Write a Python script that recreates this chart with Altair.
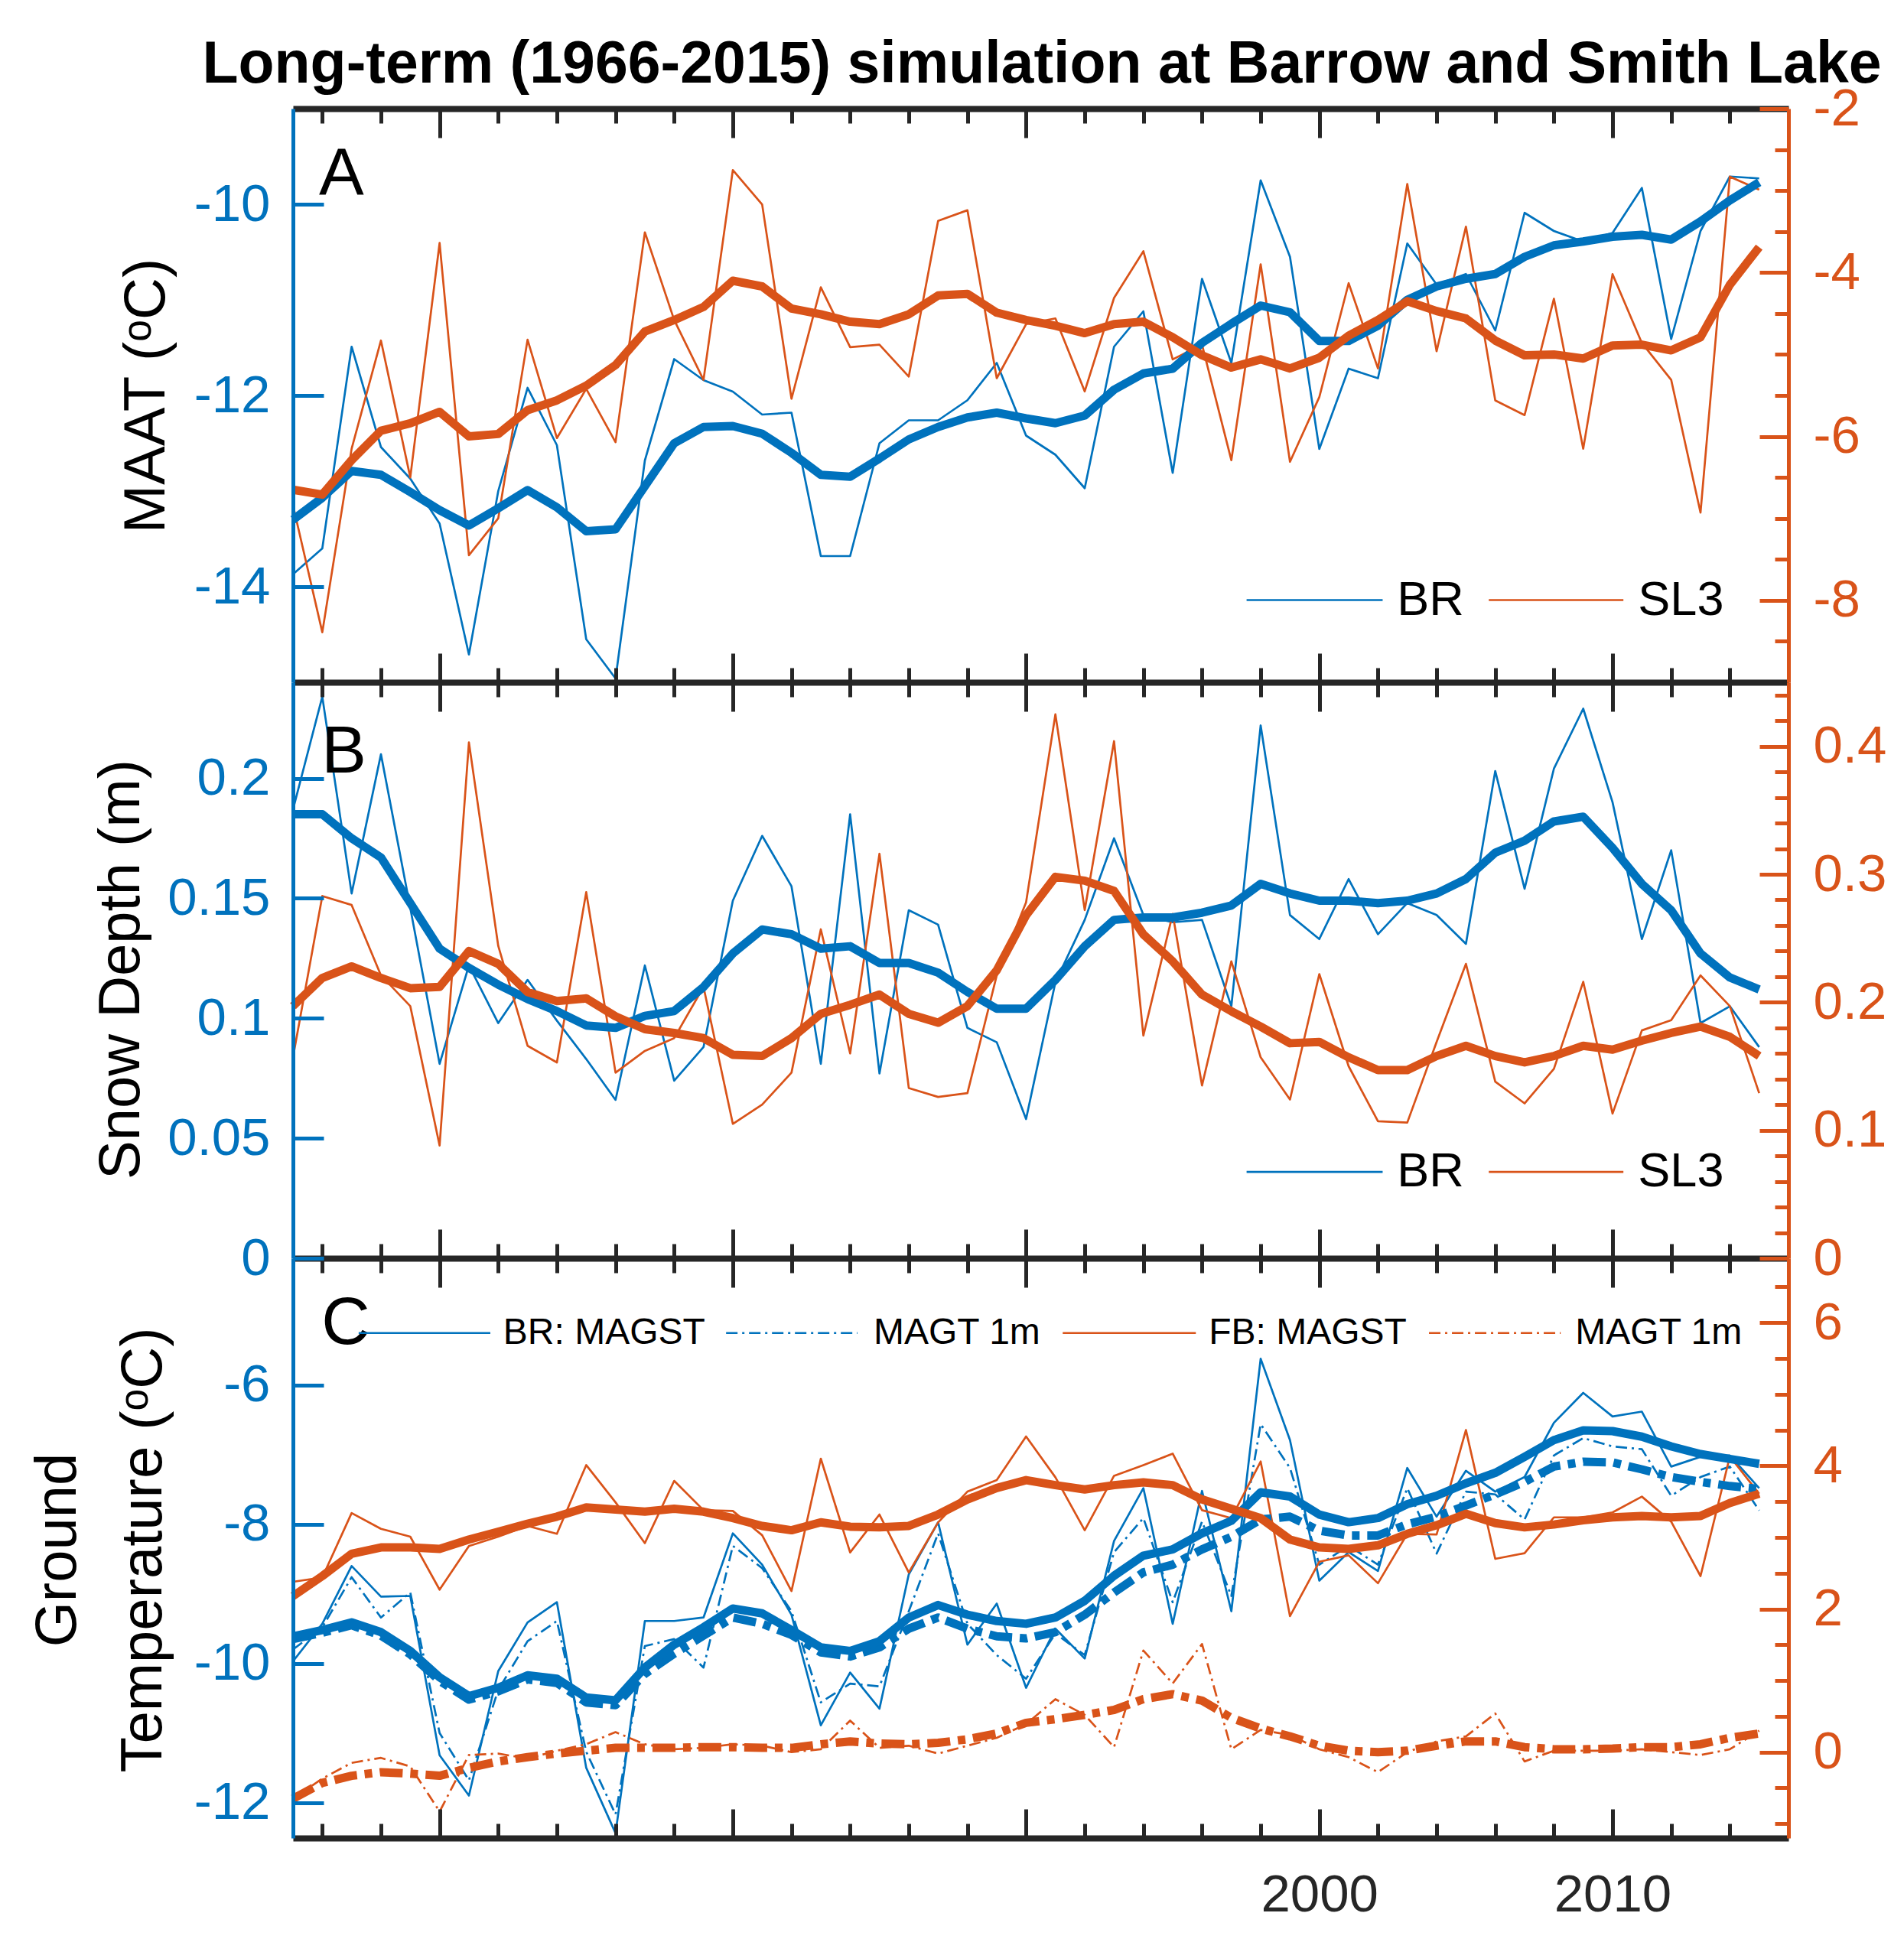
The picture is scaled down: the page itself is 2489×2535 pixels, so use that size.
import altair as alt
import pandas as pd

YEARS = list(range(1965, 2016))
TITLE = "Long-term (1966-2015) simulation at Barrow and Smith Lake"

# ---------------- Panel A: MAAT (left: BR, right: SL3) ----------------
br_maat = [-13.87, -13.6, -11.49, -12.54, -12.87, -13.34, -14.71, -13.0, -11.92, -12.52,
           -14.55, -14.96, -12.68, -11.62, -11.84, -11.96, -12.2, -12.18, -13.68, -13.68,
           -12.5, -12.26, -12.26, -12.05, -11.66, -12.42, -12.62, -12.97, -11.49, -11.12,
           -12.81, -10.78, -11.66, -9.75, -10.55, -12.56, -11.72, -11.82, -10.41, -10.84,
           -10.73, -11.32, -10.09, -10.28, -10.39, -10.3, -9.83, -11.41, -10.28, -9.71,
           -9.73]
br_maat_smooth = [-13.3, -13.07, -12.79, -12.83, -13.01, -13.2, -13.36, -13.18, -12.99, -13.17,
                  -13.42, -13.4, -12.95, -12.5, -12.33, -12.32, -12.4, -12.6, -12.83, -12.85,
                  -12.66, -12.46, -12.33, -12.23, -12.18, -12.24, -12.29, -12.21, -11.94, -11.77,
                  -11.72, -11.45, -11.25, -11.06, -11.13, -11.43, -11.43, -11.27, -11.0, -10.86,
                  -10.78, -10.73, -10.55, -10.43, -10.39, -10.34, -10.32, -10.37, -10.18, -9.96,
                  -9.77]
sl3_maat = [-6.84, -8.39, -6.15, -4.83, -6.5, -3.64, -7.45, -7.0, -4.82, -6.02,
            -5.42, -6.07, -3.51, -4.58, -5.31, -2.75, -3.17, -5.54, -4.18, -4.91,
            -4.88, -5.27, -3.37, -3.24, -5.29, -4.63, -4.56, -5.45, -4.31, -3.74,
            -5.06, -4.88, -6.29, -3.9, -6.31, -5.52, -4.13, -5.17, -2.92, -4.96,
            -3.44, -5.56, -5.74, -4.32, -6.15, -4.02, -4.86, -5.31, -6.93, -2.83,
            -2.99]
sl3_maat_smooth = [-6.65, -6.71, -6.29, -5.93, -5.84, -5.7, -6.0, -5.97, -5.68, -5.56,
                   -5.38, -5.13, -4.72, -4.58, -4.42, -4.1, -4.17, -4.44, -4.51, -4.6,
                   -4.63, -4.51, -4.28, -4.26, -4.49, -4.58, -4.65, -4.74, -4.63, -4.6,
                   -4.79, -5.01, -5.16, -5.06, -5.17, -5.04, -4.77, -4.58, -4.35, -4.47,
                   -4.56, -4.83, -5.01, -5.0, -5.05, -4.89, -4.88, -4.95, -4.79, -4.15,
                   -3.69]

# ---------------- Panel B: Snow depth ----------------
br_snow = [0.187, 0.234, 0.152, 0.21, 0.146, 0.081, 0.122, 0.098, 0.116, 0.099,
           0.083, 0.066, 0.122, 0.074, 0.088, 0.149, 0.176, 0.155, 0.081, 0.185,
           0.077, 0.145, 0.139, 0.096, 0.09, 0.058, 0.115, 0.141, 0.175, 0.143,
           0.14, 0.141, 0.105, 0.222, 0.143, 0.133, 0.158, 0.135, 0.148, 0.143,
           0.131, 0.203, 0.154, 0.204, 0.229, 0.19, 0.133, 0.17, 0.098, 0.105,
           0.088]
br_snow_smooth = [0.185, 0.185, 0.175, 0.167, 0.148, 0.129, 0.121, 0.114, 0.108, 0.103,
                  0.097, 0.096, 0.101, 0.103, 0.113, 0.127, 0.137, 0.135, 0.129, 0.13,
                  0.123, 0.123, 0.119, 0.111, 0.104, 0.104, 0.116, 0.13, 0.141, 0.142,
                  0.142, 0.144, 0.147, 0.156, 0.152, 0.149, 0.149, 0.148, 0.149, 0.152,
                  0.158, 0.169, 0.174, 0.182, 0.184, 0.171, 0.156, 0.145, 0.127, 0.117,
                  0.112]
sl3_snow = [0.157, 0.283, 0.276, 0.221, 0.197, 0.088, 0.403, 0.244, 0.166, 0.153,
            0.286, 0.145, 0.162, 0.172, 0.212, 0.105, 0.12, 0.145, 0.257, 0.16,
            0.316, 0.133, 0.126, 0.129, 0.221, 0.278, 0.425, 0.272, 0.404, 0.174,
            0.269, 0.135, 0.232, 0.157, 0.124, 0.222, 0.15, 0.107, 0.106, 0.169,
            0.23, 0.138, 0.121, 0.148, 0.216, 0.113, 0.178, 0.186, 0.221, 0.197,
            0.129]
sl3_snow_smooth = [0.197, 0.219, 0.228, 0.219, 0.211, 0.212, 0.24, 0.23, 0.208, 0.201,
                   0.203, 0.189, 0.179, 0.176, 0.172, 0.159, 0.158, 0.172, 0.191, 0.198,
                   0.206, 0.191, 0.184, 0.197, 0.225, 0.268, 0.298, 0.295, 0.287, 0.253,
                   0.232, 0.206, 0.193, 0.181, 0.168, 0.169, 0.157, 0.147, 0.147, 0.158,
                   0.166, 0.158, 0.153, 0.158, 0.166, 0.163, 0.17, 0.176, 0.181, 0.173,
                   0.158]

# ---------------- Panel C: Ground temperature ----------------
br_magst = [-9.97, -9.43, -8.6, -9.04, -9.03, -11.32, -11.9, -10.11, -9.41, -9.12,
            -11.5, -12.44, -9.39, -9.39, -9.34, -8.13, -8.58, -9.3, -10.89, -10.13,
            -10.65, -8.72, -7.97, -9.73, -9.14, -10.35, -9.5, -9.93, -8.24, -7.48,
            -9.43, -7.52, -9.25, -5.62, -6.79, -8.81, -8.4, -8.67, -7.19, -7.89,
            -7.23, -7.53, -7.32, -6.54, -6.11, -6.45, -6.38, -7.17, -7.03, -7.01,
            -7.48]
br_magt1m = [-9.8, -9.48, -8.76, -9.34, -8.98, -11.0, -11.68, -10.38, -9.68, -9.39,
             -11.27, -12.17, -9.75, -9.65, -10.06, -8.31, -8.63, -9.25, -10.56, -10.29,
             -10.33, -9.25, -8.13, -9.43, -9.88, -10.22, -9.57, -9.88, -8.4, -7.91,
             -9.12, -7.96, -9.03, -6.56, -7.19, -8.58, -8.31, -8.58, -7.48, -8.42,
             -7.53, -7.57, -7.93, -7.01, -6.76, -6.88, -6.92, -7.59, -7.32, -7.17,
             -7.8]
br_magst_smooth = [-9.61, -9.52, -9.41, -9.55, -9.82, -10.2, -10.47, -10.35, -10.17, -10.22,
                   -10.49, -10.53, -10.06, -9.73, -9.48, -9.21, -9.28, -9.52, -9.77, -9.82,
                   -9.68, -9.34, -9.16, -9.3, -9.39, -9.43, -9.34, -9.1, -8.74, -8.45,
                   -8.36, -8.13, -7.95, -7.54, -7.6, -7.86, -7.97, -7.91, -7.71, -7.59,
                   -7.41, -7.26, -7.03, -6.79, -6.65, -6.66, -6.74, -6.88, -6.99, -7.06,
                   -7.13]
br_magt1m_smooth = [-9.65, -9.56, -9.45, -9.6, -9.87, -10.25, -10.52, -10.4, -10.23, -10.28,
                    -10.56, -10.6, -10.15, -9.86, -9.6, -9.34, -9.43, -9.59, -9.84, -9.9,
                    -9.77, -9.5, -9.34, -9.5, -9.61, -9.64, -9.55, -9.3, -8.98, -8.69,
                    -8.58, -8.36, -8.18, -7.93, -7.89, -8.09, -8.16, -8.16, -8.0, -7.89,
                    -7.73, -7.57, -7.39, -7.17, -7.1, -7.11, -7.21, -7.32, -7.39, -7.45,
                    -7.49]
fb_magst = [2.38, 2.44, 3.34, 3.12, 3.01, 2.27, 2.88, 3.01, 3.16, 3.05,
            4.01, 3.49, 2.92, 3.79, 3.38, 3.37, 3.03, 2.25, 4.1, 2.79,
            3.32, 2.51, 3.21, 3.64, 3.8, 4.41, 3.84, 3.1, 3.86, 4.01,
            4.17, 3.38, 3.27, 4.06, 1.9, 2.66, 2.75, 2.36, 3.05, 3.04,
            4.5, 2.7, 2.78, 3.28, 3.28, 3.35, 3.57, 3.22, 2.46, 4.13,
            3.61]
fb_magst_smooth = [2.18, 2.46, 2.77, 2.86, 2.86, 2.84, 2.97, 3.08, 3.19, 3.29,
                   3.42, 3.39, 3.36, 3.4, 3.36, 3.27, 3.16, 3.1, 3.21, 3.15,
                   3.14, 3.16, 3.32, 3.53, 3.69, 3.8, 3.73, 3.67, 3.73, 3.77,
                   3.73, 3.53, 3.4, 3.27, 2.97, 2.86, 2.84, 2.89, 3.05, 3.17,
                   3.33, 3.2, 3.14, 3.18, 3.24, 3.28, 3.3, 3.28, 3.3, 3.48,
                   3.61]
fb_magt1m = [-0.65, -0.37, -0.15, -0.08, -0.2, -0.83, -0.04, -0.02, -0.09, 0.02,
             0.11, 0.28, 0.11, 0.04, 0.06, 0.11, 0.09, 0.0, 0.04, 0.44,
             0.06, 0.09, -0.02, 0.09, 0.2, 0.39, 0.74, 0.52, 0.07, 1.42,
             0.96, 1.51, 0.04, 0.31, 0.24, 0.04, -0.07, -0.28, 0.0, 0.15,
             0.22, 0.54, -0.13, 0.02, 0.02, 0.02, 0.04, 0.0, -0.04, 0.04,
             0.3]
fb_magt1m_smooth = [-0.65, -0.43, -0.33, -0.28, -0.3, -0.33, -0.22, -0.13, -0.07, -0.02,
                    0.02, 0.06, 0.06, 0.06, 0.07, 0.07, 0.06, 0.06, 0.11, 0.15,
                    0.12, 0.11, 0.13, 0.18, 0.26, 0.41, 0.46, 0.52, 0.59, 0.74,
                    0.81, 0.72, 0.48, 0.33, 0.22, 0.09, 0.02, 0.0, 0.02, 0.09,
                    0.15, 0.15, 0.07, 0.04, 0.04, 0.05, 0.07, 0.07, 0.11, 0.2,
                    0.26]

# ---------------- tick values ----------------
X_MAJOR = [1970, 1980, 1990, 2000, 2010]
X_MINOR = [1966, 1968, 1972, 1974, 1976, 1978, 1982, 1984, 1986, 1988, 1992, 1994,
           1996, 1998, 2002, 2004, 2006, 2008, 2012, 2014]
X_LABELS = [2000, 2010]
A_LEFT_TICKS = [-14, -12, -10]
A_RIGHT_TICKS = [-8, -6, -4, -2]
A_RIGHT_MINOR = [-8.5, -7.5, -7, -6.5, -5.5, -5, -4.5, -3.5, -3, -2.5]
B_LEFT_TICKS = [0, 0.05, 0.1, 0.15, 0.2]
B_RIGHT_TICKS = [0, 0.1, 0.2, 0.3, 0.4]
B_RIGHT_MINOR = [0.02, 0.04, 0.06, 0.08, 0.12, 0.14, 0.16, 0.18, 0.22, 0.24, 0.26, 0.28,
                 0.32, 0.34, 0.36, 0.38, 0.42, 0.44]
C_LEFT_TICKS = [-12, -10, -8, -6]
C_RIGHT_TICKS = [0, 2, 4, 6]
C_RIGHT_MINOR = [-1, -0.5, 0.5, 1, 1.5, 2.5, 3, 3.5, 4.5, 5, 5.5, 6.5]

# ---------------- styling / layout ----------------
BLUE = "#0072BD"
ORANGE = "#D95319"
DARK = "#262626"
FONT = "Liberation Sans"
THIN = 2.7
THICK = 11
DASHDOT_THIN = [15, 6, 3, 6]
DASH_THICK = [30, 10, 10, 10]

W, H = 1955, 2261
BAND = {"A": [750, 0], "B": [1503, 750], "C": [2261, 1503]}
DOMAINS = {"A_L": [-15, -9], "A_R": [-9, -2],
           "B_L": [0, 0.24], "B_R": [0, 0.45],
           "C_L": [-12.51, -4.175], "C_R": [-1.2, 6.9]}

df = pd.DataFrame({
    "year": YEARS,
    "br_maat": br_maat, "br_maat_smooth": br_maat_smooth,
    "sl3_maat": sl3_maat, "sl3_maat_smooth": sl3_maat_smooth,
    "br_snow": br_snow, "br_snow_smooth": br_snow_smooth,
    "sl3_snow": sl3_snow, "sl3_snow_smooth": sl3_snow_smooth,
    "br_magst": br_magst, "br_magt1m": br_magt1m,
    "br_magst_smooth": br_magst_smooth, "br_magt1m_smooth": br_magt1m_smooth,
    "fb_magst": fb_magst, "fb_magst_smooth": fb_magst_smooth,
    "fb_magt1m": fb_magt1m, "fb_magt1m_smooth": fb_magt1m_smooth,
})

XSC = alt.Scale(domain=[1965, 2016], nice=False, zero=False)


def ysc(key):
    return alt.Scale(domain=DOMAINS[key], range=BAND[key[0]], nice=False, zero=False)


def xax(edge, direction, major, domain=False):
    if direction == "down":
        orient, off = "bottom", edge - H
    else:
        orient, off = "top", -edge
    return alt.Axis(orient=orient, offset=off, values=X_MAJOR if major else X_MINOR,
                    ticks=True, tickSize=38 if major else 19, tickWidth=5, tickColor=DARK,
                    labels=False, domain=domain, domainColor=DARK, domainWidth=8,
                    grid=False, title=None, zindex=1)


XLAB = alt.Axis(orient="bottom", offset=0, values=X_LABELS, ticks=False, domain=False,
                labels=True, labelFont=FONT, labelFontSize=69, labelColor=DARK,
                labelPadding=40, labelBaseline="top", labelFlush=False, labelOverlap=False,
                format="d", grid=False, title=None, zindex=1)


def yleft(values, title, tx, ty, lh=None):
    kw = dict(orient="right", offset=-W, values=values, domain=True, domainColor=BLUE,
              domainWidth=5, ticks=True, tickSize=40, tickWidth=5, tickColor=BLUE,
              labels=True, labelExpr="toString(datum.value)", labelFont=FONT,
              labelFontSize=69, labelColor=BLUE, labelAlign="right", labelBaseline="middle",
              labelPadding=-70, labelOverlap=False, labelFlush=False, grid=False,
              title=title, titleX=tx, titleY=ty, titleAngle=270, titleFont=FONT,
              titleFontSize=76, titleFontWeight="normal", titleColor="black",
              titleAlign="center", titleBaseline="middle", zindex=1)
    if lh:
        kw["titleLineHeight"] = lh
    return alt.Axis(**kw)


def yright(values):
    return alt.Axis(orient="left", offset=-W, values=values, domain=True, domainColor=ORANGE,
                    domainWidth=5, ticks=True, tickSize=38, tickWidth=5, tickColor=ORANGE,
                    labels=True, labelExpr="toString(datum.value)", labelFont=FONT,
                    labelFontSize=69, labelColor=ORANGE, labelAlign="left",
                    labelBaseline="middle", labelPadding=-70, labelOverlap=False,
                    labelFlush=False, grid=False, title=None, zindex=1)


def yminor(values):
    return alt.Axis(orient="left", offset=-W, values=values, domain=False, ticks=True,
                    tickSize=18, tickWidth=5, tickColor=ORANGE, labels=False, grid=False,
                    title=None, zindex=1)


def line(col, key, color, width, dash=None, xaxis=None, yaxis=None):
    props = dict(color=color, strokeWidth=width, strokeJoin="round")
    if dash:
        props["strokeDash"] = dash
    return alt.Chart(df).mark_line(**props).encode(
        x=alt.X("year:Q", scale=XSC, axis=xaxis),
        y=alt.Y(f"{col}:Q", scale=ysc(key), axis=yaxis))


def label(text, x, y, key, size, weight="normal", align="left", baseline="alphabetic"):
    d = pd.DataFrame({"x": [x], "y": [y], "t": [text]})
    return alt.Chart(d).mark_text(font=FONT, fontSize=size, fontWeight=weight, align=align,
                                  baseline=baseline, color="black").encode(
        x=alt.X("x:Q", scale=XSC, axis=None),
        y=alt.Y("y:Q", scale=ysc(key), axis=None),
        text="t:N")


def seg(x1, x2, y, key, color, dash=None):
    props = dict(color=color, strokeWidth=THIN)
    if dash:
        props["strokeDash"] = dash
    d = pd.DataFrame({"x": [x1], "x2": [x2], "y": [y]})
    return alt.Chart(d).mark_rule(**props).encode(
        x=alt.X("x:Q", scale=XSC, axis=None), x2="x2:Q",
        y=alt.Y("y:Q", scale=ysc(key), axis=None))


layers = [
    # Panel A
    line("br_maat", "A_L", BLUE, THIN, xaxis=xax(0, "down", True, domain=True),
         yaxis=yleft(A_LEFT_TICKS, "MAAT (ᵒC)", -192, 375)),
    line("sl3_maat", "A_R", ORANGE, THIN, xaxis=xax(0, "down", False),
         yaxis=yright(A_RIGHT_TICKS)),
    line("br_maat_smooth", "A_L", BLUE, THICK, xaxis=xax(750, "up", True, domain=True)),
    line("sl3_maat_smooth", "A_R", ORANGE, THICK, xaxis=xax(750, "up", False),
         yaxis=yminor(A_RIGHT_MINOR)),
    # Panel B
    line("br_snow", "B_L", BLUE, THIN, xaxis=xax(750, "down", True),
         yaxis=yleft(B_LEFT_TICKS, "Snow Depth (m)", -225, 1125)),
    line("sl3_snow", "B_R", ORANGE, THIN, xaxis=xax(750, "down", False),
         yaxis=yright(B_RIGHT_TICKS)),
    line("br_snow_smooth", "B_L", BLUE, THICK, xaxis=xax(1503, "up", True, domain=True)),
    line("sl3_snow_smooth", "B_R", ORANGE, THICK, xaxis=xax(1503, "up", False),
         yaxis=yminor(B_RIGHT_MINOR)),
    # Panel C
    line("br_magst", "C_L", BLUE, THIN, xaxis=xax(1503, "down", True),
         yaxis=yleft(C_LEFT_TICKS, ["Ground", "Temperature (ᵒC)"], -308, 1884, lh=112)),
    line("br_magt1m", "C_L", BLUE, THIN, dash=DASHDOT_THIN, xaxis=xax(1503, "down", False)),
    line("fb_magst", "C_R", ORANGE, THIN, xaxis=xax(2261, "up", True, domain=True),
         yaxis=yright(C_RIGHT_TICKS)),
    line("fb_magt1m", "C_R", ORANGE, THIN, dash=DASHDOT_THIN, xaxis=xax(2261, "up", False),
         yaxis=yminor(C_RIGHT_MINOR)),
    line("br_magt1m_smooth", "C_L", BLUE, THICK, dash=DASH_THICK, xaxis=XLAB),
    line("br_magst_smooth", "C_L", BLUE, THICK),
    line("fb_magt1m_smooth", "C_R", ORANGE, THICK, dash=DASH_THICK),
    line("fb_magst_smooth", "C_R", ORANGE, THICK),
    # Title and panel letters
    label(TITLE, 1990.54, -8.725, "A_L", 77, weight="bold", align="center"),
    label("A", 1965.89, -9.904, "A_L", 88),
    label("B", 1965.97, 0.2024, "B_L", 88),
    label("C", 1965.97, -5.406, "C_L", 88),
    # Legend A
    seg(1997.52, 2002.16, -14.14, "A_L", BLUE),
    seg(2005.78, 2010.37, -14.14, "A_L", ORANGE),
    label("BR", 2002.65, -14.14, "A_L", 63, baseline="middle"),
    label("SL3", 2010.87, -14.14, "A_L", 63, baseline="middle"),
    # Legend B
    seg(1997.52, 2002.16, 0.036, "B_L", BLUE),
    seg(2005.78, 2010.37, 0.036, "B_L", ORANGE),
    label("BR", 2002.65, 0.036, "B_L", 63, baseline="middle"),
    label("SL3", 2010.87, 0.036, "B_L", 63, baseline="middle"),
    # Legend C
    seg(1967.24, 1971.73, -5.25, "C_L", BLUE),
    label("BR: MAGST", 1972.17, -5.25, "C_L", 48, baseline="middle"),
    seg(1979.77, 1984.25, -5.25, "C_L", BLUE, dash=DASHDOT_THIN),
    label("MAGT 1m", 1984.80, -5.25, "C_L", 48, baseline="middle"),
    seg(1991.25, 1995.79, -5.25, "C_L", ORANGE),
    label("FB: MAGST", 1996.23, -5.25, "C_L", 48, baseline="middle"),
    seg(2003.74, 2008.23, -5.25, "C_L", ORANGE, dash=DASHDOT_THIN),
    label("MAGT 1m", 2008.73, -5.25, "C_L", 48, baseline="middle"),
]

chart = alt.layer(*layers).resolve_scale(y="independent").resolve_axis(
    x="independent", y="independent"
).properties(
    width=W, height=H,
    autosize=alt.AutoSizeParams(type="none"),
    padding={"left": 375, "top": 134, "right": 143, "bottom": 120},
).configure_view(stroke=None)

chart.save("out.html", embed_options={"renderer": "svg", "actions": False})
